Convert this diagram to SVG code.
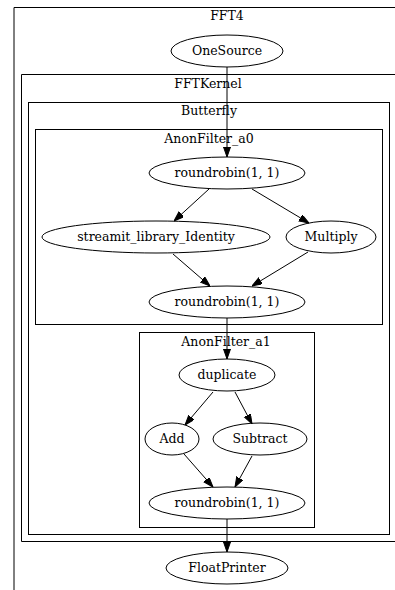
<svg xmlns="http://www.w3.org/2000/svg" width="395" height="590" viewBox="0 0 395 590">
<style>
text{font-family:'DejaVu Serif',serif;font-size:12.5px;fill:#000;text-anchor:middle}
.cl{fill:none;stroke:#000;stroke-width:1}
.nd{fill:none;stroke:#000;stroke-width:1}
.ed{fill:none;stroke:#000;stroke-width:1;marker-end:url(#ah)}
</style>
<defs>
<marker id="ah" markerUnits="userSpaceOnUse" markerWidth="10" markerHeight="8" refX="10" refY="3.5" orient="auto">
<path d="M0,0 L10,3.5 L0,7 z" fill="#000" stroke="#000" stroke-width="1"/>
</marker>
</defs>
<rect width="395" height="590" fill="#fff"/>
<g id="clusters">
<g id="cluster_FFT4"><path class="cl" d="M14,600 V7.5 H400"/><text x="227" y="20">FFT4</text></g>
<g id="cluster_FFTKernel"><path class="cl" d="M400,74.5 H21.5 V541.5 H400"/><text x="208" y="88">FFTKernel</text></g>
<g id="cluster_Butterfly"><rect class="cl" x="28.5" y="102.5" width="361" height="432"/><text x="209" y="115">Butterfly</text></g>
<g id="cluster_AnonFilter_a0"><rect class="cl" x="35.5" y="129.5" width="347" height="195"/><text x="209" y="143">AnonFilter_a0</text></g>
<g id="cluster_AnonFilter_a1"><rect class="cl" x="139.5" y="332.5" width="175" height="195"/><text x="226" y="346">AnonFilter_a1</text></g>
</g>
<g id="edges">
<line class="ed" x1="227" y1="67" x2="227" y2="157"/>
<line class="ed" x1="209" y1="189" x2="174" y2="221"/>
<line class="ed" x1="252" y1="189" x2="309" y2="223"/>
<line class="ed" x1="173" y1="254" x2="210" y2="286"/>
<line class="ed" x1="308" y1="252" x2="252" y2="286"/>
<line class="ed" x1="227" y1="318" x2="227" y2="359"/>
<line class="ed" x1="213" y1="392" x2="185" y2="425"/>
<line class="ed" x1="235" y1="392" x2="252" y2="424"/>
<line class="ed" x1="184" y1="454" x2="213" y2="487"/>
<line class="ed" x1="252" y1="456" x2="235" y2="487"/>
<line class="ed" x1="227" y1="519" x2="227" y2="552"/>
</g>
<g id="OneSource"><ellipse class="nd" cx="227" cy="51" rx="56" ry="16"/><text x="227" y="55">OneSource</text></g>
<g id="rr_a0_split"><ellipse class="nd" cx="227" cy="173" rx="78" ry="16"/><text x="227" y="177">roundrobin(1, 1)</text></g>
<g id="Identity"><ellipse class="nd" cx="156" cy="237" rx="114" ry="16"/><text x="156" y="241">streamit_library_Identity</text></g>
<g id="Multiply"><ellipse class="nd" cx="331" cy="237" rx="45" ry="16"/><text x="331" y="241">Multiply</text></g>
<g id="rr_a0_join"><ellipse class="nd" cx="227" cy="302" rx="78" ry="16"/><text x="227" y="306">roundrobin(1, 1)</text></g>
<g id="duplicate"><ellipse class="nd" cx="227" cy="375" rx="48" ry="16"/><text x="227" y="379">duplicate</text></g>
<g id="Add"><ellipse class="nd" cx="172" cy="439" rx="27" ry="16"/><text x="172" y="443">Add</text></g>
<g id="Subtract"><ellipse class="nd" cx="260" cy="439" rx="47" ry="16"/><text x="260" y="443">Subtract</text></g>
<g id="rr_a1_join"><ellipse class="nd" cx="227" cy="503" rx="78" ry="16"/><text x="227" y="507">roundrobin(1, 1)</text></g>
<g id="FloatPrinter"><ellipse class="nd" cx="227" cy="568" rx="61" ry="16"/><text x="227" y="572">FloatPrinter</text></g>
</svg>
